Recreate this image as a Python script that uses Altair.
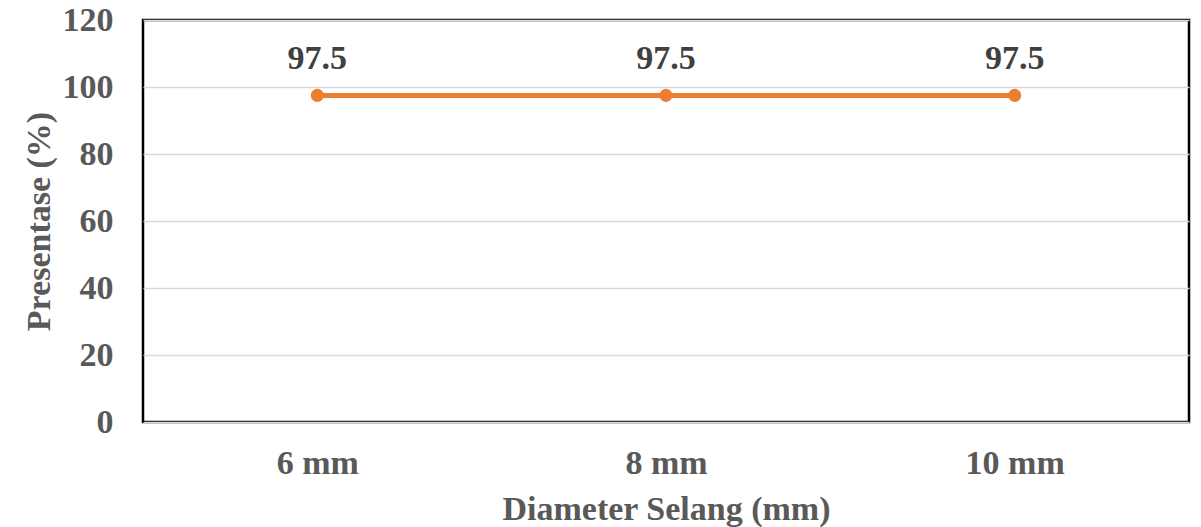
import altair as alt
import pandas as pd

categories = ["6 mm", "8 mm", "10 mm"]
values = [97.5, 97.5, 97.5]

df = pd.DataFrame({"diameter": categories, "persen": values})

FONT = "Liberation Serif, Times New Roman, serif"
FS = 34

x = alt.X(
    "diameter:N",
    sort=categories,
    scale=alt.Scale(paddingInner=0, paddingOuter=0),
    axis=alt.Axis(
        title="Diameter Selang (mm)",
        labelAngle=0,
        labelFont=FONT, labelFontSize=FS, labelFontWeight="bold", labelColor="#595959",
        labelPadding=24, ticks=False, domain=False,
        titleFont=FONT, titleFontSize=FS, titleFontWeight="bold", titleColor="#595959",
        titleBaseline="alphabetic", titleY=97,
    ),
)
y = alt.Y(
    "persen:Q",
    scale=alt.Scale(domain=[0, 120], nice=False),
    axis=alt.Axis(
        title="Presentase (%)",
        values=[0, 20, 40, 60, 80, 100, 120],
        labelFont=FONT, labelFontSize=FS, labelFontWeight="bold", labelColor="#595959",
        labelPadding=30, ticks=False, domain=False,
        gridColor="#d9d9d9", gridWidth=1.3,
        titleFont=FONT, titleFontSize=FS, titleFontWeight="bold", titleColor="#595959",
        titleX=-104, titleBaseline="middle",
    ),
)

base = alt.Chart(df).encode(x=x, y=y)

line = base.mark_line(color="#ED7D31", strokeWidth=5)
pts = base.mark_point(filled=True, color="#ED7D31", size=170, opacity=1)
labels = base.mark_text(
    dy=-36, font=FONT, fontSize=FS, fontWeight="bold", color="#404040"
).encode(text=alt.Text("persen:Q", format=".1f"))

chart = (
    alt.layer(line, pts, labels)
    .properties(
        width=1046,
        height=402,
        background="white",
        autosize=alt.AutoSizeParams(type="none"),
        padding={"left": 143, "top": 20, "right": 12, "bottom": 105},
    )
    .configure_view(stroke="#000000", strokeWidth=2.5)
)

chart.save("out.html", embed_options={"renderer": "svg", "actions": False})
